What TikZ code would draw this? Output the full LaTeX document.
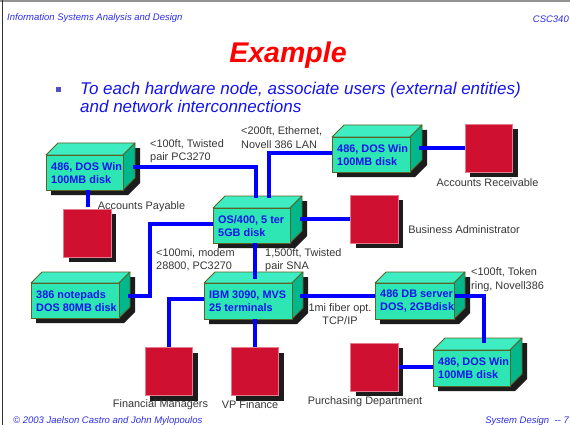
\documentclass[tikz,border=0pt]{standalone}
\usepackage{fontspec}
\setmainfont{Liberation Sans}
\usetikzlibrary{shadows}
\definecolor{frontc}{RGB}{46,230,180}
\definecolor{topc}{RGB}{62,238,194}
\definecolor{sidec}{RGB}{0,184,140}
\definecolor{edgec}{RGB}{90,100,40}
\definecolor{shadc}{RGB}{28,28,28}
\definecolor{redc}{RGB}{208,16,48}
\definecolor{linkc}{RGB}{0,0,255}
\definecolor{btext}{RGB}{20,20,235}
\definecolor{lbl}{RGB}{55,55,55}
\definecolor{hdr}{RGB}{45,45,235}
\definecolor{bulc}{RGB}{80,80,200}
\tikzset{
  link/.style={draw=linkc, line width=4pt},
  hwfront/.style={fill=frontc, draw=edgec, line width=0.8pt, inner sep=0pt},
  hwtext/.style={font=\fontsize{10.9}{13}\selectfont\bfseries, text=btext, align=left, inner sep=0pt},
  face/.style={draw=edgec, line width=0.8pt, line join=round},
  usr/.style={fill=redc, draw=redc!55!white, line width=0.6pt,
    minimum width=47.5pt, minimum height=48pt, inner sep=0pt,
    drop shadow={shadow xshift=5pt, shadow yshift=-5pt, opacity=1, fill=shadc}},
  lab/.style={font=\fontsize{10.9}{13.5}\selectfont, text=lbl, inner sep=0pt},
  hdrtext/.style={font=\fontsize{9.5}{11}\selectfont\itshape, text=hdr, inner sep=0pt},
}
% #1 depth, #2 name, #3 x1, #4 y1, #5 x2, #6 y2, #7 text
\newcommand\hwbox[7][12]{%
  \fill[shadc] (#3+5,#4+5) -- (#3+#1+5,#4-#1+5) -- (#5+#1+5,#4-#1+5) -- (#5+#1+5,#6-#1+5) -- (#5+5,#6+5) -- (#3+5,#6+5) -- cycle;
  \filldraw[face, fill=topc] (#3,#4) -- (#3+#1,#4-#1) -- (#5+#1,#4-#1) -- (#5,#4) -- cycle;
  \filldraw[face, fill=sidec] (#5,#4) -- (#5+#1,#4-#1) -- (#5+#1,#6-#1) -- (#5,#6) -- cycle;
  \pgfmathsetmacro\hwW{#5-#3}%
  \pgfmathsetmacro\hwH{#6-#4}%
  \node[hwfront, minimum width=\hwW pt, minimum height=\hwH pt] (#2) at ({(#3+#5)/2},{(#4+#6)/2}) {};
  \node[hwtext, anchor=west] (#2-t) at ({#3+5},{(#4+#6)/2+0.5}) {#7};
}
\begin{document}
\begin{tikzpicture}[x=1pt,y=-1pt]
\fill[white] (0,0) rectangle (570,425);
\useasboundingbox (0,0) rectangle (570,425);
\fill[gray!85] (0,0) rectangle (570,2);
\draw[black!80, line width=1.2pt] (2.6,0) -- (2.6,425);

% header / footer
\node[hdrtext, anchor=base west] (h1) at (7,21) {Information Systems Analysis and Design};
\node[hdrtext, anchor=base east] (h2) at (569,23) {CSC340};
\node[hdrtext, anchor=base west] (f1) at (13,423) {© 2003 Jaelson Castro and John Mylopoulos};
\node[hdrtext, anchor=base east] (f2) at (569,423) {System Design \ -{}- 7};

% title and bullet
\node[font=\fontsize{28.5}{30}\selectfont\bfseries\itshape, text=red, anchor=base, inner sep=0pt] (title) at (288,63) {Example};
\node[fill=bulc, minimum size=5pt, inner sep=0pt] (bul) at (58.5,90) {};
\node[font=\fontsize{17}{20}\selectfont\itshape, text=btext, anchor=base west, inner sep=0pt] (bl1) at (80,95) {To each hardware node, associate users (external entities)};
\node[font=\fontsize{17}{20}\selectfont\itshape, text=btext, anchor=base west, inner sep=0pt] (bl2) at (80,113) {and network interconnections};

% hardware boxes
\hwbox{b1}{46}{155}{123}{190}{486, DOS Win\\100MB disk}
\hwbox{b2}{213}{208}{290}{243}{OS/400, 5 ter\\5GB disk}
\hwbox{b3}{332}{137}{410}{172}{486, DOS Win\\100MB disk}
\hwbox[11]{b4}{31}{283}{119}{318}{386 notepads\\DOS 80MB disk}
\hwbox[11]{b5}{204}{283}{292}{319}{IBM 3090, MVS\\25 terminals}
\hwbox[11]{b6}{375}{283}{454}{319}{486 DB server\\DOS, 2GBdisk}
\hwbox{b7}{433}{350}{510}{386}{486, DOS Win\\100MB disk}

% users
\node[usr] (ap) at (87.5,233) {};
\node[usr] (ar) at (489,148) {};
\node[usr] (ba) at (374.5,219) {};
\node[usr] (fm) at (169,371.5) {};
\node[usr] (vp) at (255,371.5) {};
\node[usr] (pd) at (374.5,367) {};

\node[lab] (lap) at (141.5,207) {Accounts Payable};
\node[lab] (lar) at (487.5,183) {Accounts Receivable};
\node[lab] (lba) at (464,230) {Business Administrator};
\node[lab] (lfm) at (160.5,405) {Financial Managers};
\node[lab] (lvp) at (250,405) {VP Finance};
\node[lab] (lpd) at (365,402) {Purchasing Department};

% connection labels
\node[lab, align=left, anchor=west] (t1) at (150,151) {<100ft, Twisted\\pair PC3270};
\node[lab, align=left, anchor=west] (t2) at (241,137.5) {<200ft, Ethernet,\\Novell 386 LAN};
\node[lab, align=left, anchor=west] (t3) at (156,259.5) {<100mi, modem\\28800, PC3270};
\node[lab, align=left, anchor=west] (t4) at (265,260) {1,500ft, Twisted\\pair SNA};
\node[lab, align=center] (t5) at (340,314) {1mi fiber opt.\\TCP/IP};
\node[lab, align=left, anchor=west] (t6) at (471,279.5) {<100ft, Token\\ring, Novell386};

% connectors
\draw[link] ([xshift=10pt,yshift=5.5pt]b1.east) -| ([xshift=4.5pt,yshift=10pt]b2.north);
\draw[link] ([yshift=1.5pt]b3.west) -| ([xshift=17.5pt,yshift=10pt]b2.north);
\draw[link] (ap.north |- b1.south) -- ([yshift=2pt]ap.north);
\draw[link] ([yshift=1.5pt]b2.west) -- ++(-63,0) |- ([xshift=9pt,yshift=4.5pt]b4.east);
\draw[link] ([xshift=10pt]b2.east |- ba.west) -- (ba.west);
\draw[link] ([xshift=9pt]b3.east |- ar.west) -- (ar.west);
\draw[link] ([xshift=3.5pt]b2.south) -- ++(0,36);
\draw[link] ([yshift=2pt]b5.west) -| (fm.north);
\draw[link] (vp.north |- b5.south) -- (vp.north);
\draw[link] ([xshift=8pt,yshift=5pt]b5.east) -- ([yshift=5pt]b6.west);
\draw[link] ([xshift=1pt,yshift=5pt]b6.east) -| ([xshift=12.5pt,yshift=7pt]b7.north);
\draw[link] (pd.east) -- (b7.west |- pd.east);
\end{tikzpicture}
\end{document}
